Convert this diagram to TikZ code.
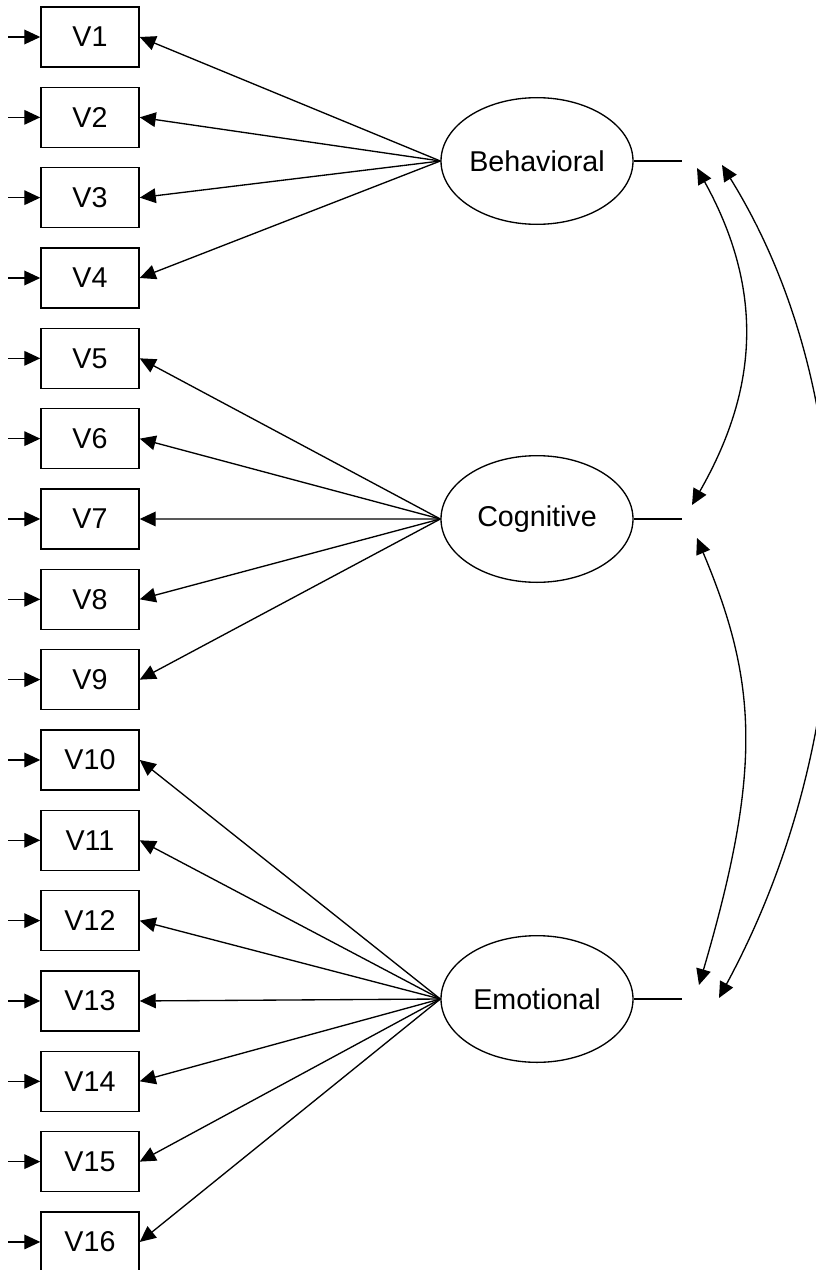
\documentclass[tikz,border=0pt]{standalone}
\usepackage{fontspec}
\setmainfont{Liberation Sans}
\usetikzlibrary{arrows.meta,shapes.geometric}
\begin{document}
\begin{tikzpicture}[x=0.75pt,y=-0.75pt,
  font=\fontsize{21.5pt}{24pt}\selectfont,
  tip/.style={-{Triangle[length=12pt,width=11pt]}},
  dtip/.style={{Triangle[length=12pt,width=11pt]}-{Triangle[length=12pt,width=11pt]}},
  obs/.style={draw,line width=1.1pt,minimum width=73.5pt,minimum height=45pt,inner sep=0pt},
  lat/.style={draw,ellipse,line width=1pt,minimum width=144pt,minimum height=95pt,inner sep=0pt},
  conn/.style={line width=1pt}]
\useasboundingbox (0,0) rectangle (815,1270);
\foreach \i in {1,...,16}{
  \node[obs] (V\i) at (90,{37+80.33*(\i-1)}) {V\i};
  \coordinate (in\i) at (8,{37+80.33*(\i-1)});
  \draw[conn,tip] (in\i) -- (V\i.west);
}
\node[lat] (B) at (537,161) {Behavioral};
\node[lat] (C) at (537,519) {Cognitive};
\node[lat] (E) at (537,999) {Emotional};
\foreach \i in {1,...,4}{\draw[conn,tip] (B.west) -- (V\i.east);}
\foreach \i in {5,...,9}{\draw[conn,tip] (C.west) -- (V\i.east);}
\foreach \i in {10,...,16}{\draw[conn,tip] (E.west) -- (V\i.east);}
\coordinate (Bend) at (682,161);
\coordinate (Cend) at (682,519);
\coordinate (Eend) at (682,999);
\draw[conn] (B.east) -- (Bend);
\draw[conn] (C.east) -- (Cend);
\draw[conn] (E.east) -- (Eend);
\coordinate (b1) at (697,168);
\coordinate (b2) at (722,165);
\coordinate (c1) at (692,505);
\coordinate (c2) at (697,538);
\coordinate (e1) at (699,985);
\coordinate (e2) at (719,998);
\draw[conn,dtip] (b1) .. controls (770,300) and (752,400) .. (c1);
\draw[conn,dtip] (c2) .. controls (758,683) and (762,770) .. (e1);
\draw[conn,dtip] (b2) .. controls (866,397) and (866,726) .. (e2);
\end{tikzpicture}
\end{document}
